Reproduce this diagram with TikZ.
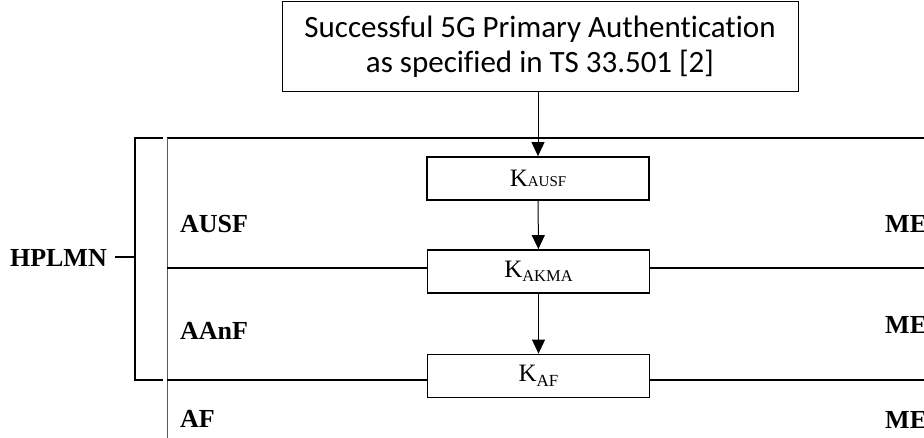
\documentclass[tikz,border=0pt]{standalone}
\usepackage{fontspec}
\setmainfont{Liberation Serif}
\newfontfamily\calib[Ligatures=NoCommon]{Carlito}
\usetikzlibrary{arrows.meta}
\begin{document}
\begin{tikzpicture}[x=1pt,y=-1pt,
  kbox/.style={draw, line width=1.8pt, minimum width=222pt, minimum height=43pt, inner sep=0pt, font=\fontsize{25}{25}\selectfont},
  lbl/.style={anchor=base west, font=\bfseries\fontsize{26}{26}\selectfont, inner sep=0pt},
  arr/.style={-{Triangle[length=14pt,width=13pt]}, line width=1pt},
  thin/.style={line width=1.3pt},
  bracket/.style={line width=1.8pt}]
\useasboundingbox (0,0) rectangle (924,438);
\clip (0,0) rectangle (924,438);
\fill[white] (0,0) rectangle (924,438);

\node[draw, line width=1pt, minimum width=516pt, minimum height=90pt, inner sep=0pt, align=center,
  font=\calib\fontsize{31}{35}\selectfont] (top) at (540,47)
  {Successful 5G Primary Authentication\\as specified in TS 33.501 [2]};

\node[kbox] (kausf) at (538,178.5) {K{\fontsize{15}{15}\selectfont AUSF}};
\node[kbox] (kakma) at (538.5,271.5) {K\raisebox{-4.5pt}{\fontsize{16.5}{16.5}\selectfont AKMA}};
\node[kbox] (kaf) at (538.5,376) {K\raisebox{-4.5pt}{\fontsize{17}{17}\selectfont AF}};

\draw[arr] (top.south -| kausf.north) -- (kausf.north);
\draw[arr] (kausf) -- (kakma);
\draw[arr] (kakma) -- (kaf);

\coordinate (tl) at (167,138);
\coordinate (tr) at (924,138);
\coordinate (bl) at (167,438);
\coordinate (l1) at (167,268);
\coordinate (r1) at (924,268);
\coordinate (l2) at (167,380);
\coordinate (r2) at (924,380);

\draw[line width=1.5pt] (tl) -- (tr);
\draw[line width=1pt, black!65] (tl) -- (bl);
\draw[thin] (l1) -- (kakma.west |- l1);
\draw[thin] (kakma.east |- r1) -- (r1);
\draw[thin] (l2) -- (kaf.west |- l2);
\draw[thin] (kaf.east |- r2) -- (r2);

\coordinate (b1) at (163,138);
\coordinate (b2) at (135,138);
\coordinate (b3) at (135,380);
\coordinate (b4) at (163,380);
\coordinate (bm) at (135,257);
\draw[bracket] (b1) -- (b2) -- (b3) -- (b4);

\node[lbl, anchor=base east] (hplmn) at (107,267) {HPLMN};
\draw[line width=1.2pt] (115,257) -- (bm);

\node[lbl] (ausf) at (180,233) {AUSF};
\node[lbl] (aanf) at (180,340) {AAnF};
\node[lbl] (af) at (180,427) {AF};
\node[lbl] (me1) at (885,233) {ME};
\node[lbl] (me2) at (885,334) {ME};
\node[lbl] (me3) at (885,428) {ME};
\end{tikzpicture}
\end{document}
